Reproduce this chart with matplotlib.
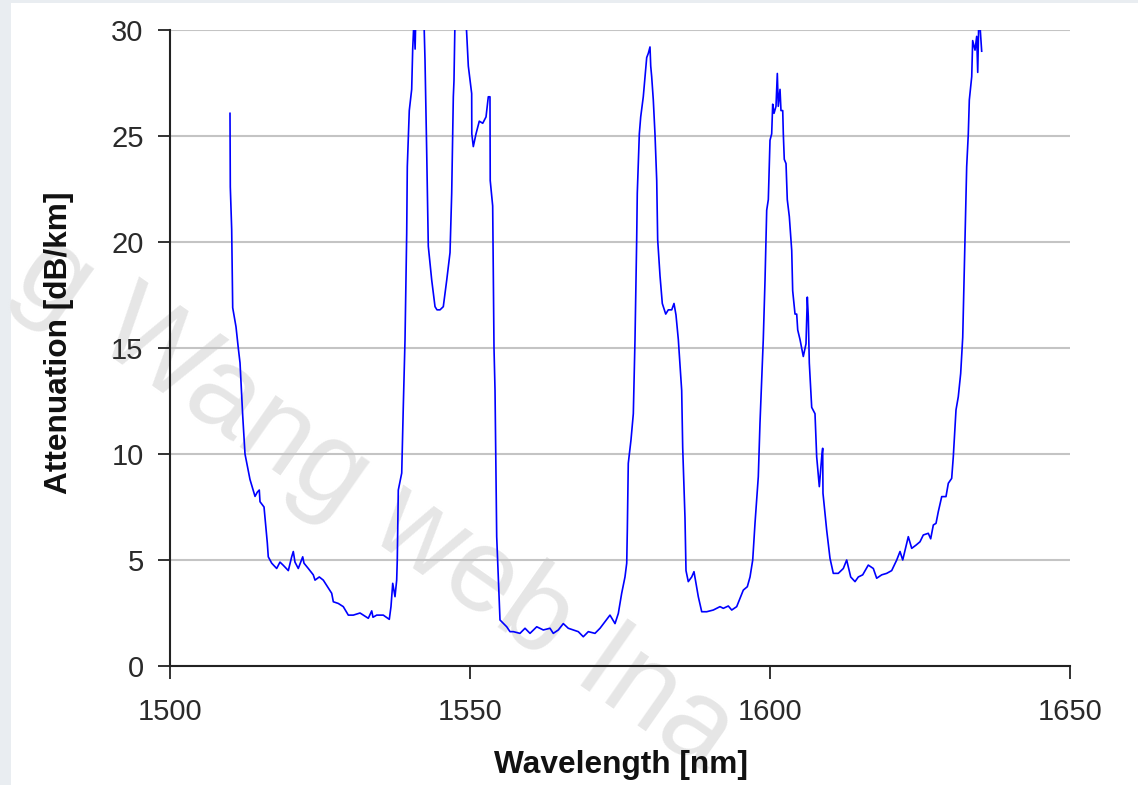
import numpy as np
import matplotlib
matplotlib.use("Agg")
from matplotlib import pyplot as plt
from matplotlib.patches import Rectangle

# traced attenuation spectrum (wavelength nm, attenuation dB/km)
wavelength = [
    1510.00, 1510.05, 1510.28, 1510.45, 1511.00, 1511.38, 1511.67, 1512.12, 1512.50, 1513.33,
    1514.17, 1514.55, 1514.88, 1515.00, 1515.67, 1516.22, 1516.38, 1516.95, 1517.78, 1518.33,
    1518.88, 1519.72, 1520.28, 1520.55, 1520.83, 1521.38, 1522.12, 1522.33, 1523.05, 1523.88,
    1524.17, 1524.88, 1525.55, 1526.12, 1526.95, 1527.22, 1528.05, 1528.88, 1529.72, 1530.55,
    1531.67, 1533.05, 1533.62, 1533.83, 1534.45, 1535.55, 1536.55, 1536.83, 1537.12, 1537.50,
    1537.78, 1537.88, 1538.05, 1538.62, 1538.88, 1539.17, 1539.45, 1539.55, 1539.88, 1540.28,
    1540.45, 1540.67, 1540.85, 1541.00, 1542.20, 1542.35, 1542.50, 1542.78, 1543.05, 1543.62,
    1544.17, 1544.50, 1545.00, 1545.55, 1546.12, 1546.67, 1546.95, 1547.22, 1547.33, 1547.50,
    1548.00, 1549.00, 1549.33, 1549.72, 1550.28, 1550.30, 1550.55, 1551.00, 1551.55, 1552.12,
    1552.67, 1553.05, 1553.33, 1553.37, 1553.78, 1554.00, 1554.17, 1554.45, 1555.00, 1556.12,
    1556.67, 1557.22, 1558.33, 1559.17, 1560.00, 1561.12, 1562.22, 1563.33, 1563.88, 1564.72,
    1565.55, 1566.38, 1567.22, 1568.05, 1568.88, 1569.72, 1570.83, 1571.67, 1572.50, 1573.33,
    1574.17, 1574.72, 1575.28, 1575.83, 1576.12, 1576.22, 1576.38, 1576.83, 1577.22, 1577.50,
    1577.78, 1577.88, 1578.22, 1578.45, 1578.88, 1579.17, 1579.45, 1579.72, 1580.00, 1580.12,
    1580.28, 1580.55, 1580.83, 1581.12, 1581.28, 1581.67, 1582.05, 1582.62, 1583.05, 1583.62,
    1584.00, 1584.33, 1584.72, 1585.28, 1585.45, 1585.83, 1586.00, 1586.38, 1586.95, 1587.33,
    1587.67, 1588.05, 1588.62, 1589.45, 1590.55, 1591.67, 1592.22, 1593.05, 1593.62, 1594.45,
    1595.00, 1595.55, 1596.22, 1596.67, 1597.12, 1597.50, 1598.05, 1598.33, 1598.62, 1598.88,
    1599.17, 1599.45, 1599.72, 1600.00, 1600.28, 1600.45, 1600.67, 1601.00, 1601.22, 1601.38,
    1601.67, 1601.83, 1602.12, 1602.22, 1602.38, 1602.67, 1602.88, 1603.22, 1603.62, 1603.78,
    1604.17, 1604.45, 1604.62, 1605.00, 1605.55, 1606.00, 1606.22, 1606.38, 1606.55, 1606.95,
    1607.50, 1607.78, 1608.22, 1608.62, 1608.78, 1608.83, 1609.45, 1610.00, 1610.55, 1611.38,
    1612.22, 1612.78, 1613.45, 1614.17, 1614.72, 1615.45, 1616.38, 1617.22, 1617.78, 1618.62,
    1619.45, 1620.28, 1621.12, 1621.67, 1622.12, 1623.05, 1623.62, 1624.33, 1625.00, 1625.55,
    1626.38, 1626.78, 1627.22, 1627.67, 1628.05, 1628.62, 1629.33, 1629.72, 1630.28, 1630.55,
    1631.00, 1631.38, 1631.78, 1632.12, 1632.50, 1632.78, 1633.05, 1633.22, 1633.62, 1633.78,
    1634.17, 1634.45, 1634.62, 1634.78, 1635.00, 1635.28,
]
attenuation = [
    26.07, 22.60, 20.60, 16.90, 16.00, 15.00, 14.30, 11.80, 10.00, 8.80,
    8.00, 8.20, 8.30, 7.75, 7.50, 5.80, 5.15, 4.85, 4.60, 4.90,
    4.75, 4.50, 5.15, 5.40, 4.90, 4.60, 5.15, 4.85, 4.60, 4.30,
    4.05, 4.20, 4.05, 3.80, 3.43, 3.03, 2.95, 2.80, 2.40, 2.40,
    2.50, 2.25, 2.60, 2.30, 2.40, 2.40, 2.20, 2.80, 3.90, 3.27,
    4.05, 5.00, 8.30, 9.10, 12.20, 15.40, 20.40, 23.55, 26.20, 27.20,
    29.10, 30.50, 29.10, 31.00, 31.00, 30.20, 28.60, 24.30, 19.80, 18.20,
    16.95, 16.80, 16.80, 16.95, 18.20, 19.50, 22.30, 26.85, 27.60, 30.50,
    33.00, 33.00, 30.50, 28.30, 27.00, 25.10, 24.50, 25.10, 25.70, 25.60,
    25.90, 26.85, 26.85, 22.90, 21.70, 15.00, 13.00, 6.10, 2.17, 1.85,
    1.62, 1.62, 1.54, 1.78, 1.54, 1.85, 1.70, 1.78, 1.54, 1.70,
    2.00, 1.78, 1.70, 1.62, 1.38, 1.62, 1.54, 1.78, 2.09, 2.40,
    2.00, 2.48, 3.43, 4.20, 4.85, 6.40, 9.56, 10.66, 11.90, 15.40,
    20.10, 22.30, 25.10, 25.90, 26.85, 27.80, 28.70, 28.90, 29.20, 28.30,
    27.80, 26.70, 25.10, 22.90, 20.10, 18.40, 17.10, 16.60, 16.80, 16.80,
    17.10, 16.56, 15.40, 13.00, 10.30, 7.00, 4.50, 3.98, 4.20, 4.45,
    3.90, 3.27, 2.56, 2.56, 2.64, 2.80, 2.72, 2.83, 2.64, 2.80,
    3.19, 3.58, 3.74, 4.20, 5.00, 6.73, 8.93, 11.45, 13.50, 15.40,
    18.20, 21.50, 22.00, 24.80, 25.10, 26.50, 26.07, 26.40, 27.95, 26.40,
    27.20, 26.20, 26.20, 25.10, 23.90, 23.70, 22.00, 21.20, 19.60, 17.70,
    16.60, 16.60, 15.85, 15.40, 14.60, 15.20, 17.40, 16.50, 14.30, 12.20,
    11.90, 9.87, 8.46, 9.87, 10.27, 8.15, 6.40, 5.08, 4.37, 4.37,
    4.60, 5.00, 4.20, 3.98, 4.20, 4.30, 4.76, 4.60, 4.14, 4.30,
    4.37, 4.50, 5.00, 5.40, 5.00, 6.10, 5.55, 5.70, 5.86, 6.18,
    6.26, 6.00, 6.65, 6.73, 7.28, 7.99, 7.99, 8.62, 8.85, 9.87,
    12.08, 12.70, 13.80, 15.50, 20.10, 23.55, 25.10, 26.70, 27.80, 29.50,
    29.05, 29.70, 28.00, 30.20, 30.20, 29.00,
]

x_ticks = [1500, 1550, 1600, 1650]
y_ticks = [0, 5, 10, 15, 20, 25, 30]

plt.rcParams['font.family'] = ['Liberation Sans', 'DejaVu Sans']

fig = plt.figure(figsize=(11.38, 7.85), dpi=100)
fig.patches.append(Rectangle((0, 0), 11 / 1138, 1, transform=fig.transFigure,
                             facecolor='#e9edf1', edgecolor='none', zorder=0))
fig.patches.append(Rectangle((0, 1 - 3 / 785), 1, 3 / 785, transform=fig.transFigure,
                             facecolor='#e9edf1', edgecolor='none', zorder=0))

# faint watermark, kept under the axes
fig.text(375 / 1138, 1 - 505 / 785, 'g Wang web Ina', fontsize=85, color='#e6e6e6',
         rotation=-35, rotation_mode='anchor', ha='center', va='center', zorder=0.5)

ax = fig.add_axes([170 / 1138, 119 / 785, 900 / 1138, 636 / 785])
ax.set_zorder(1)
ax.patch.set_alpha(0)

ax.plot(wavelength, attenuation, color='#0000ff', lw=1.2, zorder=3)

ax.set_xlim(1500, 1650)
ax.set_ylim(0, 30)
ax.set_xticks(x_ticks)
ax.set_yticks(y_ticks)
ax.yaxis.grid(True, color='#c4c4c4', lw=1.5)
ax.set_axisbelow(True)

for side in ['top', 'right']:
    ax.spines[side].set_visible(False)
for side in ['left', 'bottom']:
    ax.spines[side].set_linewidth(1.5)
    ax.spines[side].set_color('#222222')

ax.tick_params(axis='both', direction='out', length=9, width=1.3, color='#222222',
               labelsize=21, labelcolor='#2a2a2a')
ax.tick_params(axis='x', pad=14)
ax.tick_params(axis='y', pad=10)

ax.set_xlabel('Wavelength [nm]', fontsize=22.8, fontweight='bold', color='#111111')
ax.set_ylabel('Attenuation [dB/km]', fontsize=22.8, fontweight='bold', color='#111111')
ax.xaxis.set_label_coords(0.5006, -0.132)
ax.yaxis.set_label_coords(-0.1067, 0.509)

fig.savefig('out.png', dpi=100)
